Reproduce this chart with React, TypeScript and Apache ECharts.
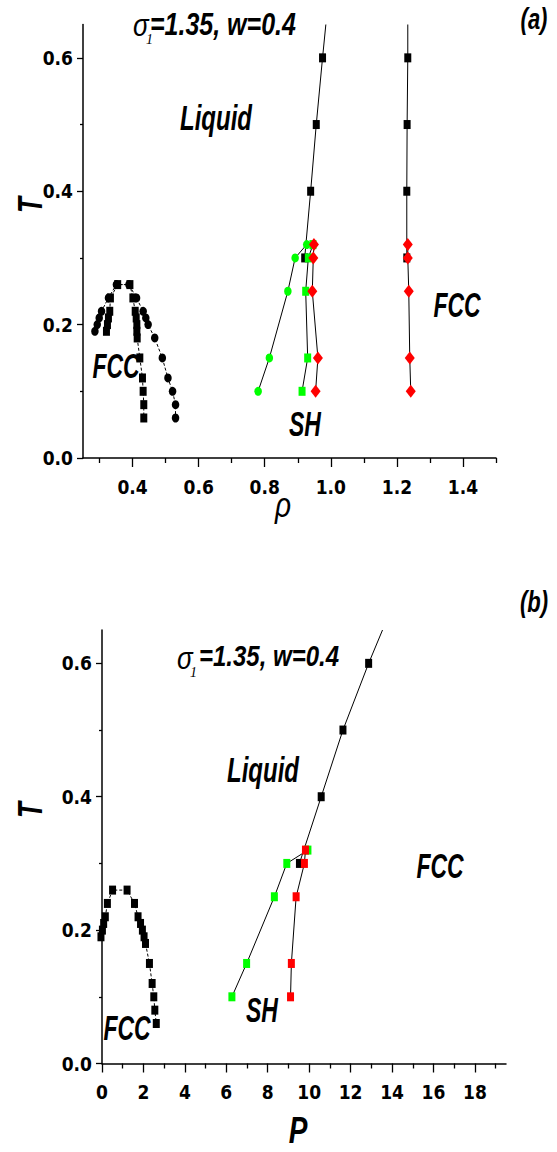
import React, { useEffect, useRef } from "react";
import * as echarts from "echarts";

// ---------- Panel (a): T vs rho ----------
const aLiquidLow = [[0.985, 0.65], [0.975, 0.6], [0.956, 0.5], [0.939, 0.4], [0.921, 0.3]];
const aShLiquid = [[0.78, 0.1], [0.814, 0.15], [0.87, 0.25], [0.892, 0.3], [0.927, 0.32]];
const aShSolid = [[0.913, 0.1], [0.93, 0.15], [0.924, 0.25], [0.932, 0.3], [0.946, 0.32]];
const aFccMid = [[0.954, 0.1], [0.961, 0.15], [0.944, 0.25], [0.947, 0.3], [0.949, 0.32]];
const aLiquidHigh = [[1.233, 0.65], [1.233, 0.6], [1.231, 0.5], [1.23, 0.4], [1.23, 0.3]];
const aFccHigh = [[1.242, 0.1], [1.239, 0.15], [1.236, 0.25], [1.233, 0.3], [1.233, 0.32]];
const aFccLowCircles = [
  [0.286, 0.19], [0.293, 0.2], [0.299, 0.21], [0.306, 0.22], [0.327, 0.24], [0.351, 0.26],
  [0.389, 0.26], [0.412, 0.24], [0.432, 0.22], [0.44, 0.21], [0.447, 0.2], [0.467, 0.18],
  [0.49, 0.15], [0.507, 0.12], [0.521, 0.1], [0.53, 0.08], [0.53, 0.06],
];
const aFccLowSquares = [
  [0.321, 0.19], [0.324, 0.2], [0.327, 0.21], [0.331, 0.22], [0.333, 0.24], [0.355, 0.26],
  [0.392, 0.26], [0.401, 0.24], [0.408, 0.22], [0.411, 0.21], [0.413, 0.2], [0.413, 0.19],
  [0.414, 0.18], [0.422, 0.15], [0.43, 0.12], [0.432, 0.1], [0.434, 0.08], [0.434, 0.06],
];
const aXTicks = [0.4, 0.6, 0.8, 1.0, 1.2, 1.4];
const aXMinor = [0.3, 0.5, 0.7, 0.9, 1.1, 1.3, 1.5];

// ---------- Panel (b): T vs P ----------
const bLiquid = [[13.54, 0.65], [12.87, 0.6], [11.63, 0.5], [10.58, 0.4], [9.53, 0.3]];
const bShLiquid = [[6.27, 0.1], [6.98, 0.15], [8.32, 0.25], [8.92, 0.3], [9.94, 0.32]];
const bShFcc = [[9.1, 0.1], [9.14, 0.15], [9.37, 0.25], [9.77, 0.3], [9.82, 0.32]];
const bFccLow = [
  [-0.05, 0.19], [0.02, 0.2], [0.08, 0.21], [0.16, 0.22], [0.26, 0.24], [0.51, 0.26],
  [1.21, 0.26], [1.57, 0.24], [1.74, 0.22], [1.86, 0.21], [1.95, 0.2], [2.03, 0.19],
  [2.1, 0.18], [2.29, 0.15], [2.42, 0.12], [2.5, 0.1], [2.55, 0.08], [2.62, 0.06],
];
const bXTicks = [0, 2, 4, 6, 8, 10, 12, 14, 16, 18];
const bXMinor = [1, 3, 5, 7, 9, 11, 13, 15, 17, 19];

const yTicks = [0, 0.2, 0.4, 0.6];
const yMinor = [0.1, 0.3, 0.5];

const TICK_FONT = '"Liberation Sans Narrow", "DejaVu Sans Condensed", "Liberation Sans", Arial, sans-serif';
const BIG_FONT = '"Liberation Sans", Arial, sans-serif';

function mainAxis(kind: "x" | "y", grid: number, min: number, max: number, ticks: number[], fmt: (v: number) => string) {
  return {
    gridIndex: grid,
    type: "value",
    min,
    max,
    position: kind === "x" ? "bottom" : "left",
    axisLine: { show: true, onZero: false, lineStyle: { color: "#000", width: 1.5 } },
    axisTick: {
      show: true,
      inside: false,
      length: kind === "x" ? 9 : 6,
      customValues: ticks,
      lineStyle: { color: "#000", width: 1.3 },
    },
    axisLabel: {
      show: true,
      customValues: ticks,
      formatter: fmt,
      color: "#000",
      fontFamily: TICK_FONT,
      fontWeight: "bold",
      fontSize: 19,
      margin: kind === "x" ? 19 : 10,
    },
    splitLine: { show: false },
  };
}

function minorAxis(kind: "x" | "y", grid: number, min: number, max: number, ticks: number[]) {
  return {
    gridIndex: grid,
    type: "value",
    min,
    max,
    position: kind === "x" ? "bottom" : "left",
    axisLine: { show: false, onZero: false },
    axisTick: {
      show: true,
      inside: false,
      length: kind === "x" ? 5 : 3,
      customValues: ticks,
      lineStyle: { color: "#000", width: 1.3 },
    },
    axisLabel: { show: false },
    splitLine: { show: false },
  };
}

const SQ = [7, 9];
const CIR = [7.5, 9];
const DIA = [10, 13];

function series(data: number[][], xi: number, symbol: string, size: number[], color: string, opts: any = {}) {
  return {
    type: "line",
    xAxisIndex: xi,
    yAxisIndex: xi,
    data,
    symbol,
    symbolSize: (v: number[]) => (v[1] >= 0.649 ? 0 : size),
    showSymbol: true,
    itemStyle: { color, borderWidth: 0 },
    lineStyle: { color: "#000", width: 1, type: opts.dashed ? [3, 2] : "solid" },
    emphasis: { disabled: true },
    silent: true,
    clip: opts.clip !== undefined ? opts.clip : true,
    z: opts.z || 2,
  };
}

function txt(text: string, x: number, y: number, size: number, sy: number, extra: any = {}) {
  const weight = extra.weight || "bold";
  const style = extra.italic === false ? "normal" : "italic";
  return {
    type: "text",
    x,
    y,
    scaleY: sy,
    rotation: extra.rotation || 0,
    z: 100,
    style: {
      text,
      font: `${style} ${weight} ${size}px ${extra.family || BIG_FONT}`,
      fill: "#000",
      textAlign: extra.align || "center",
      align: extra.align || "center",
      textVerticalAlign: "middle",
      verticalAlign: "middle",
    },
  };
}

export default function App() {
  const ref = useRef<HTMLDivElement>(null);
  useEffect(() => {
    document.body.style.margin = "0";
    const chart = echarts.init(ref.current!, null, { renderer: "svg" });
    const f1 = (v: number) => v.toFixed(1);
    const f0 = (v: number) => String(Math.round(v));
    chart.setOption({
      animation: false,
      backgroundColor: "#fff",
      grid: [
        { left: 83, top: 24.5, width: 413, height: 433.5 },
        { left: 102, top: 630, width: 404, height: 433.5 },
      ],
      xAxis: [
        mainAxis("x", 0, 0.25, 1.5, aXTicks, f1),
        minorAxis("x", 0, 0.25, 1.5, aXMinor),
        mainAxis("x", 1, 0, 19.5, bXTicks, f0),
        minorAxis("x", 1, 0, 19.5, bXMinor),
      ],
      yAxis: [
        mainAxis("y", 0, 0, 0.65, yTicks, f1),
        minorAxis("y", 0, 0, 0.65, yMinor),
        mainAxis("y", 1, 0, 0.65, yTicks, f1),
        minorAxis("y", 1, 0, 0.65, yMinor),
      ],
      series: [
        series(aFccLowSquares, 0, "rect", SQ, "#000", { dashed: true }),
        series(aFccLowCircles, 0, "circle", CIR, "#000", { dashed: true }),
        series(aLiquidLow, 0, "rect", SQ, "#000"),
        series(aShLiquid, 0, "circle", CIR, "#00ff00", { z: 3 }),
        series(aShSolid, 0, "rect", SQ, "#00ff00", { z: 3 }),
        series(aFccMid, 0, "diamond", DIA, "#ff0000", { z: 4 }),
        series(aLiquidHigh, 0, "rect", SQ, "#000"),
        series(aFccHigh, 0, "diamond", DIA, "#ff0000", { z: 4 }),
        series(bFccLow, 2, "rect", SQ, "#000", { dashed: true, clip: false }),
        series(bLiquid, 2, "rect", SQ, "#000"),
        series(bShLiquid, 2, "rect", SQ, "#00ff00", { z: 3 }),
        series(bShFcc, 2, "rect", SQ, "#ff0000", { z: 4 }),
      ],
      graphic: [
        // panel (a)
        txt("σ", 133, 25, 26, 1.2, { weight: "normal", align: "left" }),
        txt("1", 146, 39, 14, 1.1, { weight: "normal", align: "left", family: '"Liberation Serif", serif' }),
        txt("=1.35, w=0.4", 150, 23.5, 25, 1.25, { align: "left" }),
        txt("(a)", 534, 19, 22, 1.3),
        txt("Liquid", 216, 117, 24, 1.5),
        txt("FCC", 116, 366, 23, 1.5),
        txt("SH", 305, 424, 23, 1.5),
        txt("FCC", 457, 305, 23, 1.5),
        txt("T", 30, 205, 26, 1.35, { rotation: Math.PI / 2 }),
        txt("ρ", 283, 505, 28, 1.25, { weight: "normal" }),
        // panel (b)
        txt("σ", 177, 658, 26, 1.2, { weight: "normal", align: "left" }),
        txt("1", 190, 672, 14, 1.1, { weight: "normal", align: "left", family: '"Liberation Serif", serif' }),
        txt("=1.35, w=0.4", 199, 655.5, 24, 1.25, { align: "left" }),
        txt("(b)", 534, 602, 22, 1.3),
        txt("Liquid", 263, 769, 24, 1.5),
        txt("FCC", 440, 866, 23, 1.5),
        txt("SH", 262, 1010, 23, 1.5),
        txt("FCC", 127, 1028, 23, 1.5),
        txt("T", 30, 810, 26, 1.35, { rotation: Math.PI / 2 }),
        txt("P", 298, 1130, 28, 1.35),
      ],
    });
    return () => chart.dispose();
  }, []);
  return <div ref={ref} style={{ width: 557, height: 1152 }} />;
}
